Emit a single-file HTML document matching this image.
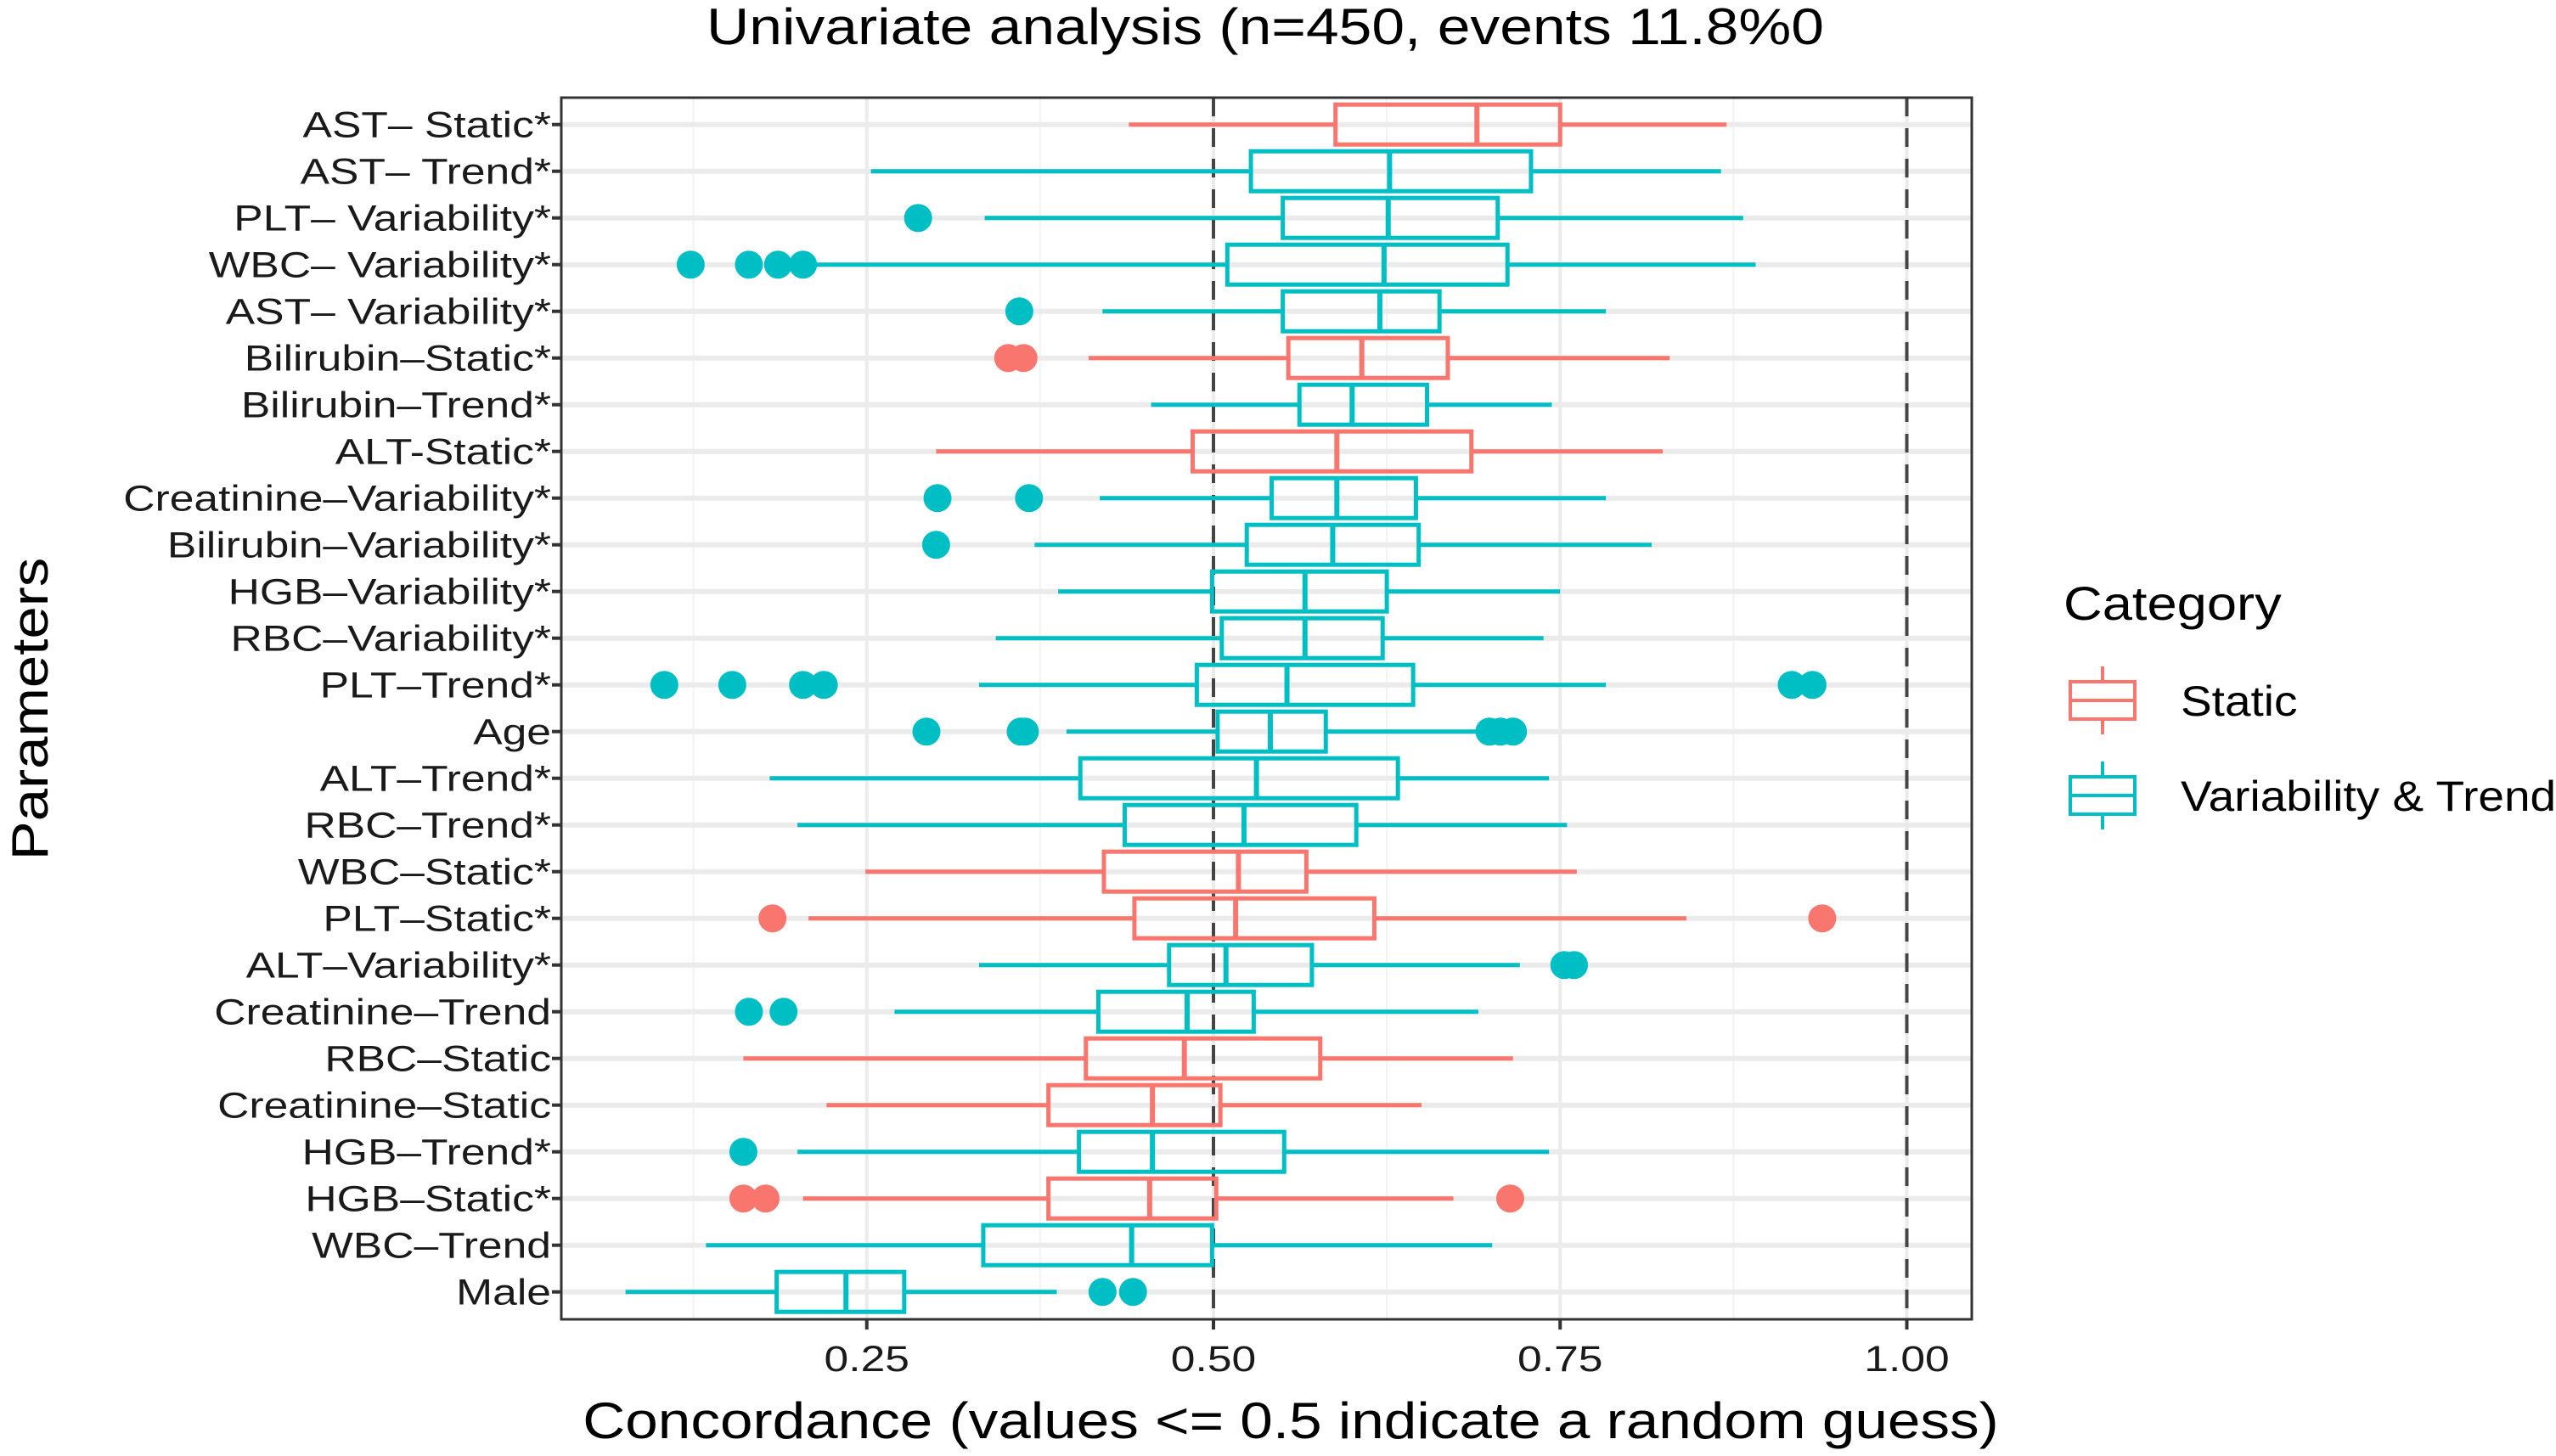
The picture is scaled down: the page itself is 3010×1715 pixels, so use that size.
<!DOCTYPE html>
<html><head><meta charset="utf-8">
<style>
html,body{margin:0;padding:0;background:#fff;}
svg{display:block;font-family:"Liberation Sans",Arial,sans-serif;}
</style></head>
<body>
<svg id="chart" width="3010" height="1715" viewBox="0 0 3010 1715" xmlns="http://www.w3.org/2000/svg">
<rect x="0" y="0" width="3010" height="1715" fill="#fff"/>
<text transform="translate(1490,52) scale(1.16,1)" font-size="60" text-anchor="middle" fill="#000">Univariate analysis (n=450, events 11.8%0</text>
<g id="grid"></g>
<g id="marks"></g>
<rect x="661" y="115" width="1661" height="1439" fill="none" stroke="#333" stroke-width="3"/>
<g id="axes"></g>
<text transform="translate(1520,1694) scale(1.155,1)" font-size="60" text-anchor="middle" fill="#000">Concordance (values &lt;= 0.5 indicate a random guess)</text>
<text transform="translate(56,835) rotate(-90) scale(1.15,1)" font-size="60" text-anchor="middle" fill="#000">Parameters</text>
<g>
<text transform="translate(2430,730) scale(1.13,1)" font-size="56" fill="#000">Category</text>
<g>
<line x1="2476" y1="785" x2="2476" y2="865" stroke="#F8766D" stroke-width="4"/>
<rect x="2438" y="803" width="76" height="44" fill="#fff" stroke="#F8766D" stroke-width="4"/>
<line x1="2438" y1="825" x2="2514" y2="825" stroke="#F8766D" stroke-width="4"/>
</g>
<text transform="translate(2568,843) scale(1.1,1)" font-size="50" fill="#000">Static</text>
<g>
<line x1="2476" y1="897" x2="2476" y2="977" stroke="#00BFC4" stroke-width="4"/>
<rect x="2438" y="915" width="76" height="44" fill="#fff" stroke="#00BFC4" stroke-width="4"/>
<line x1="2438" y1="937" x2="2514" y2="937" stroke="#00BFC4" stroke-width="4"/>
</g>
<text transform="translate(2568,955) scale(1.1,1)" font-size="50" fill="#000">Variability &amp; Trend</text>
</g>
</svg>
<script>
const categories = ["AST\u2013 Static*","AST\u2013 Trend*","PLT\u2013 Variability*","WBC\u2013 Variability*","AST\u2013 Variability*","Bilirubin\u2013Static*","Bilirubin\u2013Trend*","ALT-Static*","Creatinine\u2013Variability*","Bilirubin\u2013Variability*","HGB\u2013Variability*","RBC\u2013Variability*","PLT\u2013Trend*","Age","ALT\u2013Trend*","RBC\u2013Trend*","WBC\u2013Static*","PLT\u2013Static*","ALT\u2013Variability*","Creatinine\u2013Trend","RBC\u2013Static","Creatinine\u2013Static","HGB\u2013Trend*","HGB\u2013Static*","WBC\u2013Trend","Male"];
const groups = ["S","V","V","V","V","S","V","S","V","V","V","V","V","V","V","V","S","S","V","V","S","S","V","S","V","V"];
const whiskerLow = [0.439,0.253,0.335,0.210,0.420,0.410,0.455,0.300,0.418,0.371,0.388,0.343,0.331,0.394,0.180,0.200,0.249,0.208,0.331,0.270,0.161,0.221,0.200,0.204,0.134,0.076];
const q1 = [0.588,0.527,0.550,0.510,0.550,0.554,0.562,0.485,0.542,0.524,0.499,0.506,0.488,0.503,0.404,0.436,0.421,0.443,0.468,0.417,0.408,0.381,0.403,0.381,0.334,0.185];
const median = [0.690,0.627,0.626,0.623,0.620,0.607,0.600,0.589,0.589,0.586,0.566,0.566,0.553,0.541,0.531,0.522,0.518,0.516,0.509,0.481,0.479,0.456,0.456,0.454,0.441,0.235];
const q3 = [0.750,0.729,0.705,0.712,0.663,0.669,0.654,0.686,0.646,0.648,0.625,0.622,0.644,0.581,0.633,0.603,0.567,0.616,0.571,0.529,0.577,0.505,0.551,0.502,0.499,0.277];
const whiskerHigh = [0.870,0.866,0.882,0.891,0.783,0.829,0.744,0.824,0.783,0.816,0.750,0.738,0.783,0.692,0.742,0.755,0.762,0.841,0.721,0.691,0.716,0.650,0.742,0.673,0.701,0.387];
const outliers = [[],[],[0.287],[0.123,0.165,0.186,0.204],[0.360],[0.352,0.363],[],[],[0.301,0.367],[0.300],[],[],[0.104,0.153,0.204,0.219,0.917,0.932],[0.293,0.361,0.364,0.699,0.707,0.716],[],[],[],[0.182,0.939],[0.753,0.760],[0.165,0.190],[],[],[0.161],[0.161,0.177,0.714],[],[0.420,0.442]];
const xTicks = [0.25,0.5,0.75,1.0];
const xTickLabels = ["0.25","0.50","0.75","1.00"];
const xMinor = [0.125,0.375,0.625,0.875];
const refLines = [0.5,1.0];

const NS="http://www.w3.org/2000/svg";
const colors={S:"#F8766D",V:"#00BFC4"};
const X=v=>1429+(v-0.5)*1633;
const Y=i=>146.7+i*55.0;
const P={l:661,r:2322,t:115,b:1554};
function mk(tag,attrs,parent){const e=document.createElementNS(NS,tag);for(const k in attrs)e.setAttribute(k,attrs[k]);parent.appendChild(e);return e;}
const grid=document.getElementById('grid'),marks=document.getElementById('marks'),axes=document.getElementById('axes');

xMinor.forEach(v=>{const l=mk('line',{x1:X(v),x2:X(v),y1:P.t,y2:P.b,stroke:'#f2f2f2','stroke-width':2},grid);

});
xTicks.forEach(v=>{const l=mk('line',{x1:X(v),x2:X(v),y1:P.t,y2:P.b,stroke:'#ebebeb','stroke-width':4},grid);

});
categories.forEach((c,i)=>{const l=mk('line',{x1:P.l,x2:P.r,y1:Y(i),y2:Y(i),stroke:'#ebebeb','stroke-width':6},grid);

});
refLines.forEach(v=>{const l=mk('line',{x1:X(v),x2:X(v),y1:P.t,y2:P.b,stroke:'#444','stroke-width':4,'stroke-dasharray':'22,14'},grid);

});

categories.forEach((c,i)=>{
  const col=colors[groups[i]],y=Y(i),h=23.5;
  const g=mk('g',{},marks);
  
  
  mk('line',{x1:X(whiskerLow[i]),x2:X(q1[i]),y1:y,y2:y,stroke:col,'stroke-width':5},g);
  mk('line',{x1:X(q3[i]),x2:X(whiskerHigh[i]),y1:y,y2:y,stroke:col,'stroke-width':5},g);
  mk('rect',{x:X(q1[i]),y:y-h,width:X(q3[i])-X(q1[i]),height:2*h,fill:'none',stroke:col,'stroke-width':5},g);
  mk('line',{x1:X(median[i]),x2:X(median[i]),y1:y-h,y2:y+h,stroke:col,'stroke-width':6},g);
  outliers[i].forEach(v=>{const o=mk('circle',{cx:X(v),cy:y,r:16.5,fill:col},g);
    
    });
  const t=mk('text',{transform:'translate(649,'+(y+15)+') scale(1.2,1)','font-size':43,'text-anchor':'end',fill:'#1a1a1a'},axes);
  t.textContent=c;
  
  
  const tk=mk('line',{x1:650,x2:P.l,y1:y,y2:y,stroke:'#333','stroke-width':4},axes);
  
  
});
xTicks.forEach((v,i)=>{
  const tk=mk('line',{x1:X(v),x2:X(v),y1:P.b,y2:P.b+12,stroke:'#333','stroke-width':4},axes);
  
  
  const t=mk('text',{transform:'translate('+X(v)+',1615) scale(1.2,1)','font-size':43,'text-anchor':'middle',fill:'#1a1a1a'},axes);
  t.textContent=xTickLabels[i];
  
  
});
</script>
</body></html>
